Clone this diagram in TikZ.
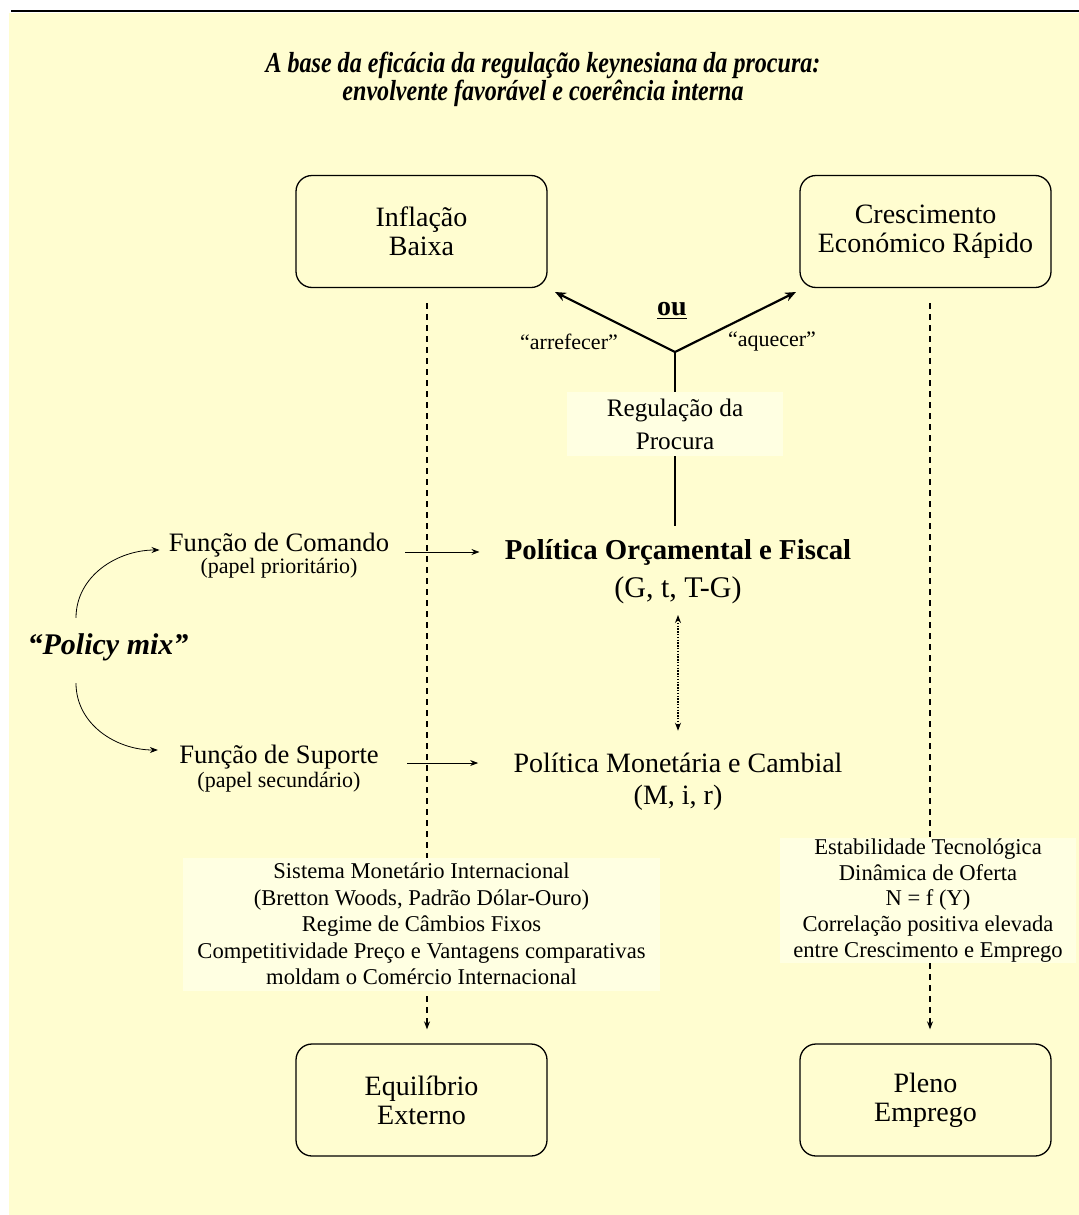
\documentclass[tikz,border=0pt]{standalone}
\usepackage{fontspec}
\setmainfont{Liberation Serif}
\newfontfamily\titlefont[FakeStretch=0.83]{Liberation Serif}
\usetikzlibrary{arrows.meta,calc}
\definecolor{bgyellow}{RGB}{255,253,208}
\definecolor{txtbg}{RGB}{255,255,226}
\begin{document}
\begin{tikzpicture}[x=0.5pt,y=-0.5pt,
  every node/.style={inner sep=0pt,align=center},
  goalbox/.style={draw,line width=0.65pt,rounded corners=8pt,minimum width=125.5pt,minimum height=56pt,font=\fontsize{14}{14.5}\selectfont},
  titletxt/.style={font=\titlefont\bfseries\itshape\fontsize{14.5}{14}\selectfont},
  thickarrow/.style={line width=1.1pt,-{Stealth[length=5.5pt,width=4.5pt]}},
  vline/.style={line width=1.4pt},
  thinarrow/.style={line width=0.4pt,-{Stealth[length=4pt,width=3pt]}},
  dashline/.style={line width=0.6pt,dash pattern=on 3pt off 2.5pt,-{Stealth[length=4pt,width=3pt]}},
  dotarrow/.style={line width=0.6pt,dash pattern=on 0.7pt off 0.7pt,{Stealth[length=4pt,width=3pt]}-{Stealth[length=4pt,width=3pt]}},
  small/.style={font=\fontsize{11}{12}\selectfont},
  blocktxt/.style={fill=txtbg,font=\fontsize{11.3}{13.2}\selectfont}
]
\useasboundingbox (0,0) rectangle (1079,1215);
\fill[white] (0,0) rectangle (1079,1215);
\fill[bgyellow] (9,13) rectangle (1079,1215);
\draw[line width=1pt] (11,11) -- (1079,11);

% title
\node[titletxt] (title) at (543,79) {A base da eficácia da regulação keynesiana da procura:\\envolvente favorável e coerência interna};

% goal boxes
\node[goalbox] (infl) at (421.5,231.5) {Inflação\\Baixa};
\node[goalbox] (cresc) at (925.5,231.5) {Crescimento\\Económico Rápido};
\node[goalbox] (equil) at (421.5,1100) {Equilíbrio\\Externo};
\node[goalbox] (pleno) at (925.5,1100) {Pleno\\Emprego};

% policies
\node[font=\bfseries\fontsize{14.4}{16}\selectfont] (pof) at (678,552) {Política Orçamental e Fiscal};
\node[font=\fontsize{15}{16}\selectfont] (pofsub) at (678,590) {(G, t, T-G)};
\node[font=\fontsize{14}{16}\selectfont] (pmc) at (678,763) {Política Monetária e Cambial};
\node[font=\fontsize{14}{16}\selectfont] (pmcsub) at (678,798) {(M, i, r)};

% functions
\node[font=\fontsize{13.3}{14}\selectfont] (fcom) at (279,545) {Função de Comando};
\node[font=\fontsize{11}{12}\selectfont] (fcomsub) at (279,568) {(papel prioritário)};
\node[font=\fontsize{13.3}{14}\selectfont] (fsup) at (279,757) {Função de Suporte};
\node[font=\fontsize{11}{12}\selectfont] (fsupsub) at (279,782) {(papel secundário)};
\node[font=\bfseries\itshape\fontsize{15}{16}\selectfont] (pmix) at (108,647) {“Policy mix”};

% demand regulation fork
\coordinate (j) at (675,352);
\coordinate (tl) at (555,292);
\coordinate (tr) at (796,292);
\draw[thickarrow] (j) -- (tl);
\draw[thickarrow] (j) -- (tr);
\node[font=\bfseries\fontsize{14}{15}\selectfont] (ou) at (672,311) {\underline{ou}};
\node[small] (arref) at (569,342) {“arrefecer”};
\node[small] (aquec) at (772,342) {“aquecer”};
\draw[vline,shorten >=6.5pt] (j) -- (j |- pof.north);
\node[fill=txtbg,minimum width=108pt,minimum height=32pt,font=\fontsize{12.6}{16.5}\selectfont] (reg) at (675,424) {Regulação da\\Procura};

% dotted double arrow
\draw[dotarrow,shorten <=5.5pt,shorten >=11pt] (pofsub.south) -- (pofsub.south |- pmc.north);

% function arrows
\draw[thinarrow,shorten <=8pt,shorten >=12.5pt] (fcom.east |- pof.west) -- (pof.west);
\draw[thinarrow,shorten <=14pt,shorten >=17.5pt] (fsup.east |- pmc.west) -- (pmc.west);
\draw[thinarrow] ([xshift=-16pt,yshift=7.5pt]pmix.north) to[out=90,in=180] ([xshift=-4.5pt,yshift=-2.5pt]fcom.west);
\draw[thinarrow] ([xshift=-16pt,yshift=-11pt]pmix.south) to[out=-90,in=180] ([xshift=-10.5pt,yshift=3.5pt]fsup.west);

% dashed causal lines
\draw[dashline,shorten <=7.5pt,shorten >=7pt] ([xshift=2.75pt]infl.south) -- ([xshift=2.75pt]equil.north);
\draw[dashline,shorten <=7.5pt,shorten >=7pt] ([xshift=2.25pt]cresc.south) -- ([xshift=2.25pt]pleno.north);

% condition blocks
\node[blocktxt,minimum width=238.5pt,minimum height=66.5pt] (lb) at (421.5,924) {Sistema Monetário Internacional\\(Bretton Woods, Padrão Dólar-Ouro)\\Regime de Câmbios Fixos\\Competitividade Preço e Vantagens comparativas\\moldam o Comércio Internacional};
\node[blocktxt,minimum width=148pt,minimum height=62.5pt,font=\fontsize{11.3}{12.9}\selectfont] (rb) at (928,900.5) {Estabilidade Tecnológica\\Dinâmica de Oferta\\N = f (Y)\\Correlação positiva elevada\\entre Crescimento e Emprego};
\end{tikzpicture}
\end{document}
